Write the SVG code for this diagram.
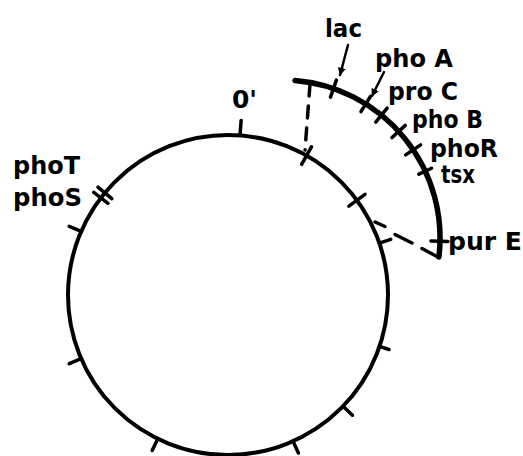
<svg xmlns="http://www.w3.org/2000/svg" width="523" height="456" viewBox="0 0 523 456">
<style>
.ln{stroke:#000;stroke-linecap:round;fill:none}
.c{stroke-width:4}
.t{stroke-width:3.5}
.arc{stroke-width:5.5}
.lbl{font-family:"DejaVu Sans","Liberation Sans",sans-serif;font-weight:bold;font-size:24px;fill:#000}
</style>
<defs>
<marker id="ah" viewBox="0 0 10 10" refX="9" refY="5" markerWidth="3.2" markerHeight="3.2" orient="auto" markerUnits="strokeWidth">
<path d="M0,0 L10,5 L0,10 Z" fill="#000"/>
</marker>
</defs>
<rect width="523" height="456" fill="#fff"/>
<g id="chromosome">
<circle class="ln c" cx="228" cy="295" r="160"/>
<g class="ln t">
<line x1="160" y1="0" x2="175" y2="0" transform="translate(228 295) rotate(-85.7)"/>
<line x1="150" y1="0" x2="170" y2="0" transform="translate(228 295) rotate(-60.6)"/>
<line x1="150" y1="0" x2="170" y2="0" transform="translate(228 295) rotate(-36.3)"/>
<line x1="160" y1="0" x2="172" y2="0" transform="translate(228 295) rotate(-18.9)"/>
<line x1="160" y1="0" x2="170" y2="0" transform="translate(228 295) rotate(18.7)"/>
<line x1="160" y1="0" x2="173" y2="0" transform="translate(228 295) rotate(44)"/>
<line x1="160" y1="0" x2="173" y2="0" transform="translate(228 295) rotate(66)"/>
<line x1="160" y1="0" x2="173" y2="0" transform="translate(228 295) rotate(116)"/>
<line x1="160" y1="0" x2="173" y2="0" transform="translate(228 295) rotate(156.6)"/>
<line x1="160" y1="0" x2="173" y2="0" transform="translate(228 295) rotate(-156.6)"/>
<line x1="151" y1="0" x2="169" y2="0" transform="translate(228 295) rotate(-142.6)"/>
<line x1="151" y1="0" x2="169" y2="0" transform="translate(228 295) rotate(-140.3)"/>
</g>
</g>
<g id="segment">
<path class="ln arc" d="M295 80.5 A158 158 0 0 1 438.9 257"/>
<g class="ln t">
<line x1="149" y1="0" x2="167" y2="0" transform="translate(282 238) rotate(-71)"/>
<line x1="149" y1="0" x2="167" y2="0" transform="translate(282 238) rotate(-58)"/>
<line x1="149" y1="0" x2="167" y2="0" transform="translate(282 238) rotate(-51)"/>
<line x1="149" y1="0" x2="167" y2="0" transform="translate(282 238) rotate(-42.4)"/>
<line x1="149" y1="0" x2="167" y2="0" transform="translate(282 238) rotate(-33.9)"/>
<line x1="151" y1="0" x2="165" y2="0" transform="translate(282 238) rotate(-25)"/>
<line x1="149" y1="0" x2="166" y2="0" transform="translate(282 238) rotate(1.2)"/>
</g>
</g>
<g id="connectors" class="ln t">
<line x1="310" y1="84" x2="305" y2="150" stroke-dasharray="12 10"/>
<line x1="375" y1="222" x2="385" y2="226.5"/>
<line x1="395" y1="234.5" x2="412" y2="243"/>
<line x1="422" y1="248.5" x2="438" y2="257"/>
<line x1="348" y1="45" x2="340" y2="75" stroke-width="2.5" marker-end="url(#ah)"/>
<line x1="384" y1="72" x2="372" y2="96" stroke-width="2.5" marker-end="url(#ah)"/>
</g>
<g id="labels">
<text class="lbl" x="232" y="108" textLength="25" lengthAdjust="spacingAndGlyphs">0'</text>
<text class="lbl" x="325" y="37" textLength="37" lengthAdjust="spacingAndGlyphs" font-size="22">lac</text>
<text class="lbl" x="375" y="67" textLength="78" lengthAdjust="spacingAndGlyphs">pho A</text>
<text class="lbl" x="388" y="100" textLength="70" lengthAdjust="spacingAndGlyphs">pro C</text>
<text class="lbl" x="412" y="128" textLength="71" lengthAdjust="spacingAndGlyphs">pho B</text>
<text class="lbl" x="430" y="157" textLength="68" lengthAdjust="spacingAndGlyphs">phoR</text>
<text class="lbl" x="441" y="183" textLength="34" lengthAdjust="spacingAndGlyphs">tsx</text>
<text class="lbl" x="448" y="250" textLength="74" lengthAdjust="spacingAndGlyphs">pur E</text>
<text class="lbl" x="13" y="174" textLength="67" lengthAdjust="spacingAndGlyphs">phoT</text>
<text class="lbl" x="13" y="206" textLength="69" lengthAdjust="spacingAndGlyphs">phoS</text>
</g>
</svg>
